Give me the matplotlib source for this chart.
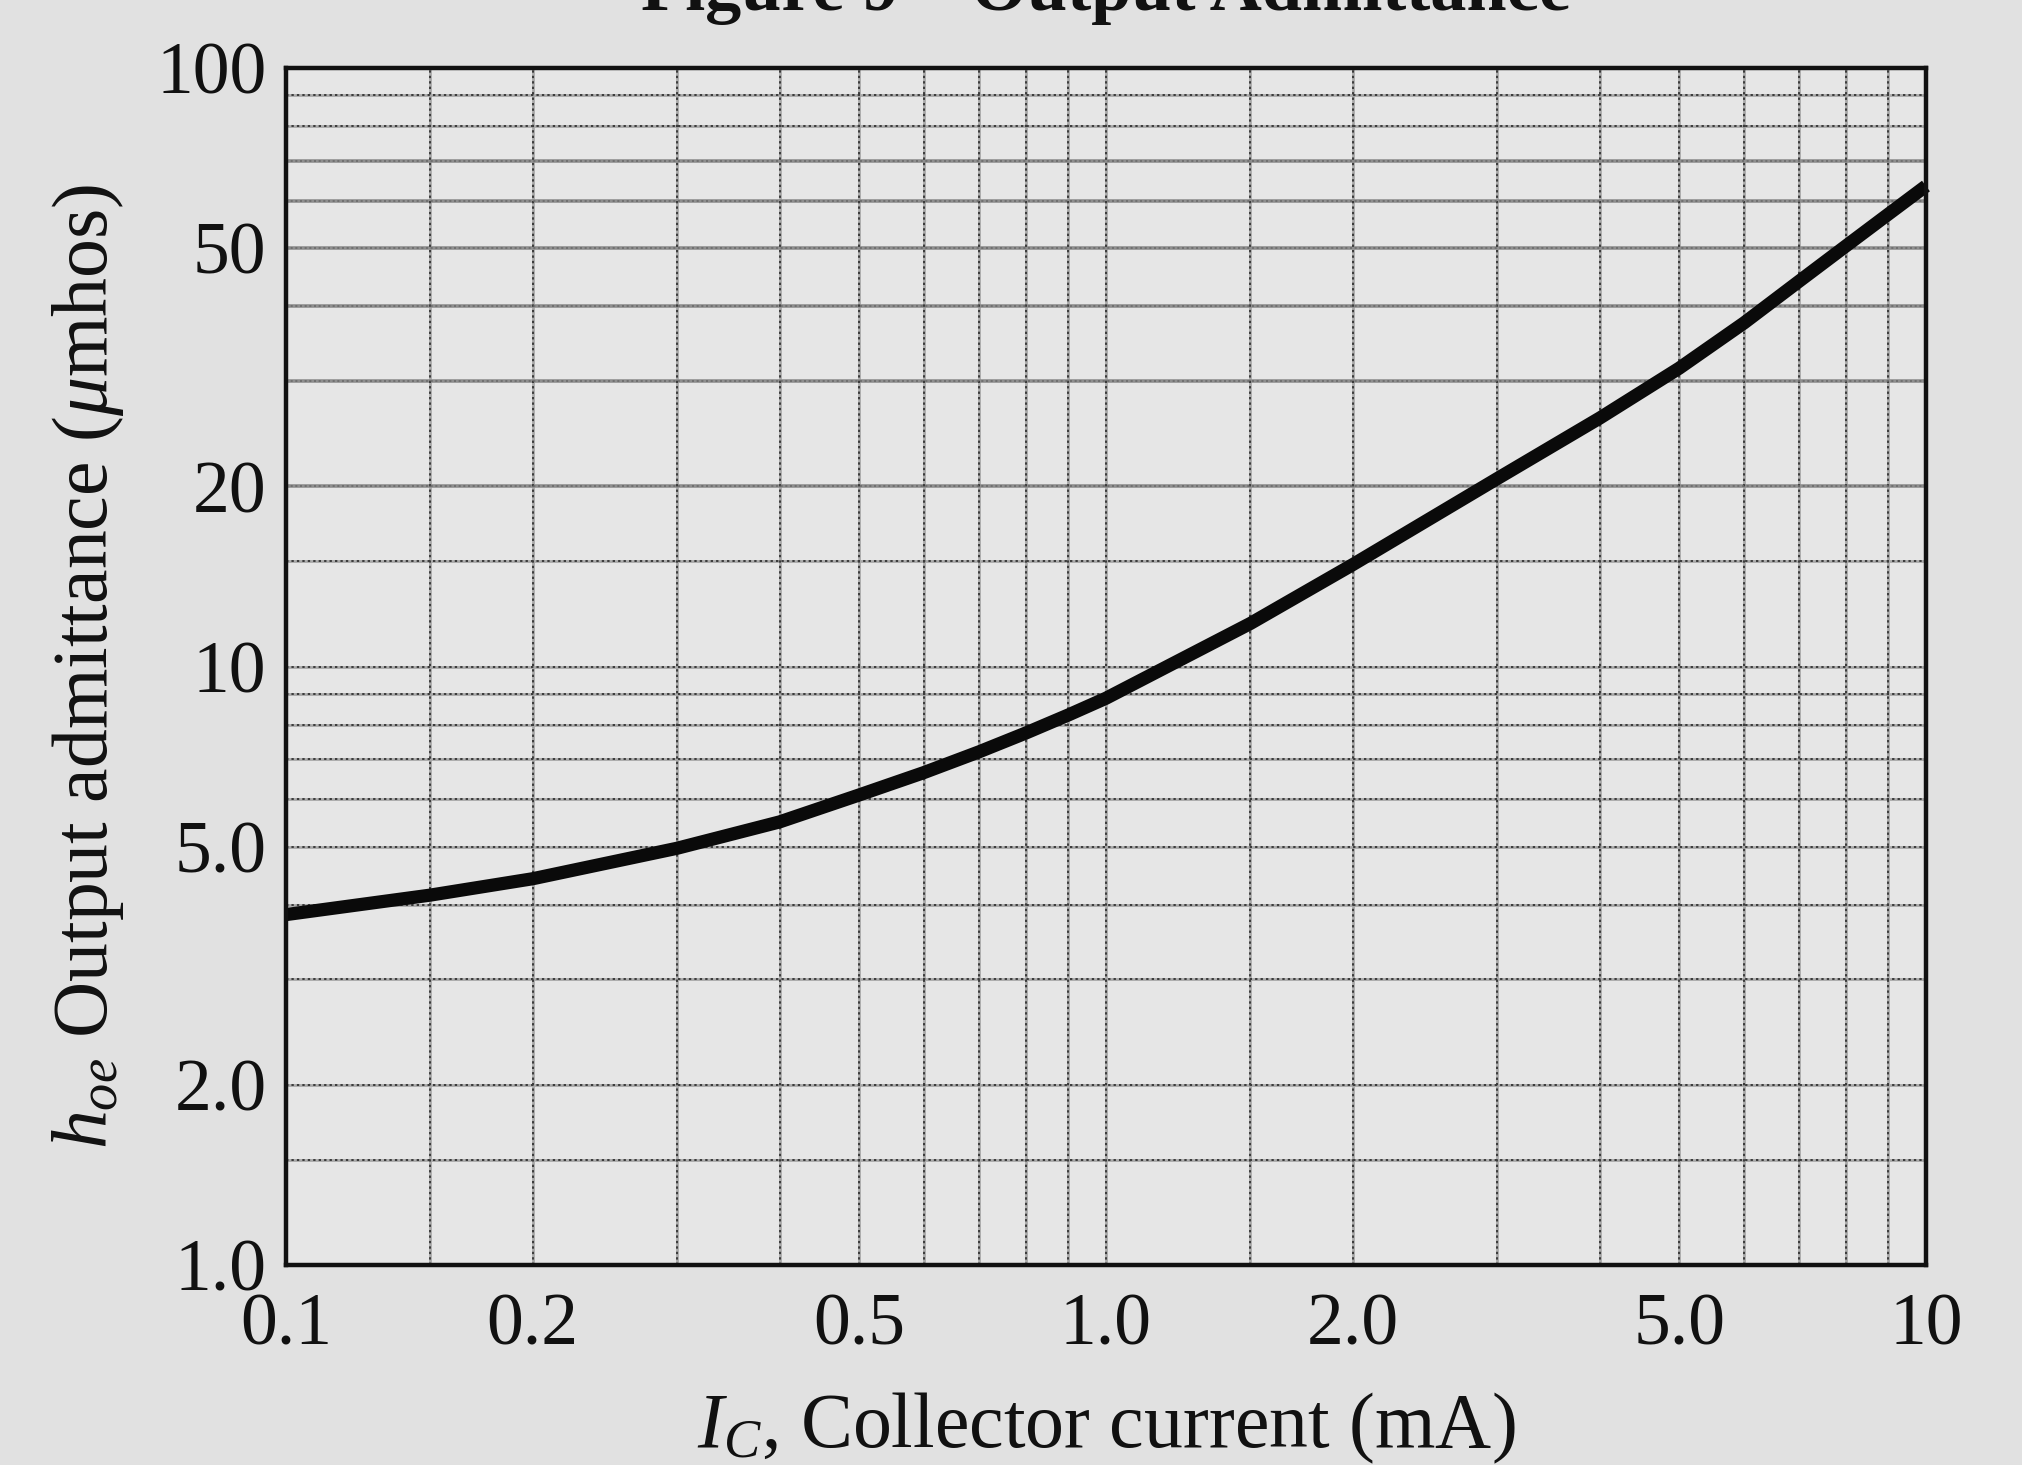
import matplotlib
matplotlib.use("Agg")
import matplotlib.pyplot as plt
from matplotlib.ticker import NullFormatter

# ---- data ----
ic_ma = [0.1, 0.15, 0.2, 0.3, 0.4, 0.5, 0.6, 0.7, 0.8, 0.9, 1.0,
         1.5, 2.0, 3.0, 4.0, 5.0, 6.0, 7.0, 8.0, 9.0, 10.0]
hoe_umhos = [3.85, 4.15, 4.42, 4.97, 5.5, 6.1, 6.65, 7.2, 7.75, 8.3, 8.85,
             11.8, 14.8, 20.6, 26.0, 31.5, 37.5, 44.0, 50.5, 57.0, 63.5]

x_tick_values = [0.1, 0.2, 0.5, 1.0, 2.0, 5.0, 10.0]
x_tick_labels = ["0.1", "0.2", "0.5", "1.0", "2.0", "5.0", "10"]
y_tick_values = [1.0, 2.0, 5.0, 10.0, 20.0, 50.0, 100.0]
y_tick_labels = ["1.0", "2.0", "5.0", "10", "20", "50", "100"]

x_grid_values = [0.15, 0.2, 0.3, 0.4, 0.5, 0.6, 0.7, 0.8, 0.9, 1.0,
                 1.5, 2.0, 3.0, 4.0, 5.0, 6.0, 7.0, 8.0, 9.0]
y_grid_values = [1.5, 2.0, 3.0, 4.0, 5.0, 6.0, 7.0, 8.0, 9.0, 10.0,
                 15.0, 20.0, 30.0, 40.0, 50.0, 60.0, 70.0, 80.0, 90.0]
y_grid_strong = [20.0, 30.0, 40.0, 50.0, 60.0, 70.0]

title_text = "Figure 9 \u2013 Output Admittance"
x_label = r"$I_C$, Collector current (mA)"
y_label = r"$h_{oe}$ Output admittance ($\mu$mhos)"

# ---- style ----
plt.rcParams["font.family"] = ["Liberation Serif", "DejaVu Serif"]
plt.rcParams["mathtext.fontset"] = "custom"
plt.rcParams["mathtext.rm"] = "Liberation Serif"
plt.rcParams["mathtext.it"] = "Liberation Serif:italic"
plt.rcParams["mathtext.bf"] = "Liberation Serif:bold"

paper = "#e1e1e1"
fig = plt.figure(figsize=(20.22, 14.65), dpi=100, facecolor=paper)
ax = fig.add_axes([0.1414, 0.1365, 0.8111, 0.8171], facecolor="#e6e6e6")

ax.set_xscale("log")
ax.set_yscale("log")
ax.set_xlim(0.1, 10)
ax.set_ylim(1, 100)

ax.set_xticks(x_tick_values)
ax.set_xticklabels(x_tick_labels)
ax.set_yticks(y_tick_values)
ax.set_yticklabels(y_tick_labels)
ax.xaxis.set_minor_formatter(NullFormatter())
ax.yaxis.set_minor_formatter(NullFormatter())
ax.tick_params(which="both", length=0, labelsize=53, colors="#111111")
ax.tick_params(axis="y", pad=14)
ax.tick_params(axis="x", pad=20)

# grid (graph paper)
for xv in x_grid_values:
    ax.axvline(xv, color="#a8a8a8", lw=2.0, zorder=1)
    ax.axvline(xv, color="#3a3a3a", lw=1.4, ls=(0, (1.2, 1.6)), zorder=1.1)
for yv in y_grid_values:
    if yv in y_grid_strong:
        ax.axhline(yv, color="#8e8e8e", lw=2.6, zorder=1)
        ax.axhline(yv, color="#6a6a6a", lw=1.2, ls=(0, (1.2, 1.6)), zorder=1.1)
    else:
        ax.axhline(yv, color="#a8a8a8", lw=2.0, zorder=1)
        ax.axhline(yv, color="#3a3a3a", lw=1.4, ls=(0, (1.2, 1.6)), zorder=1.1)

ax.plot(ic_ma, hoe_umhos, color="#0a0a0a", lw=9.5, solid_capstyle="butt",
        solid_joinstyle="round", zorder=3, clip_on=False)

for sp in ax.spines.values():
    sp.set_linewidth(3.2)
    sp.set_color("#111111")
    sp.set_zorder(4)

ax.set_xlabel(x_label, fontsize=56, color="#111111", labelpad=22)
ax.set_ylabel(y_label, fontsize=56, color="#111111", labelpad=22)

fig.text(0.547, 1 - 10 / 1465, title_text, ha="center", va="baseline",
         fontsize=52, fontweight="bold", color="#111111")

fig.savefig("out.png", dpi=100, facecolor=paper)
